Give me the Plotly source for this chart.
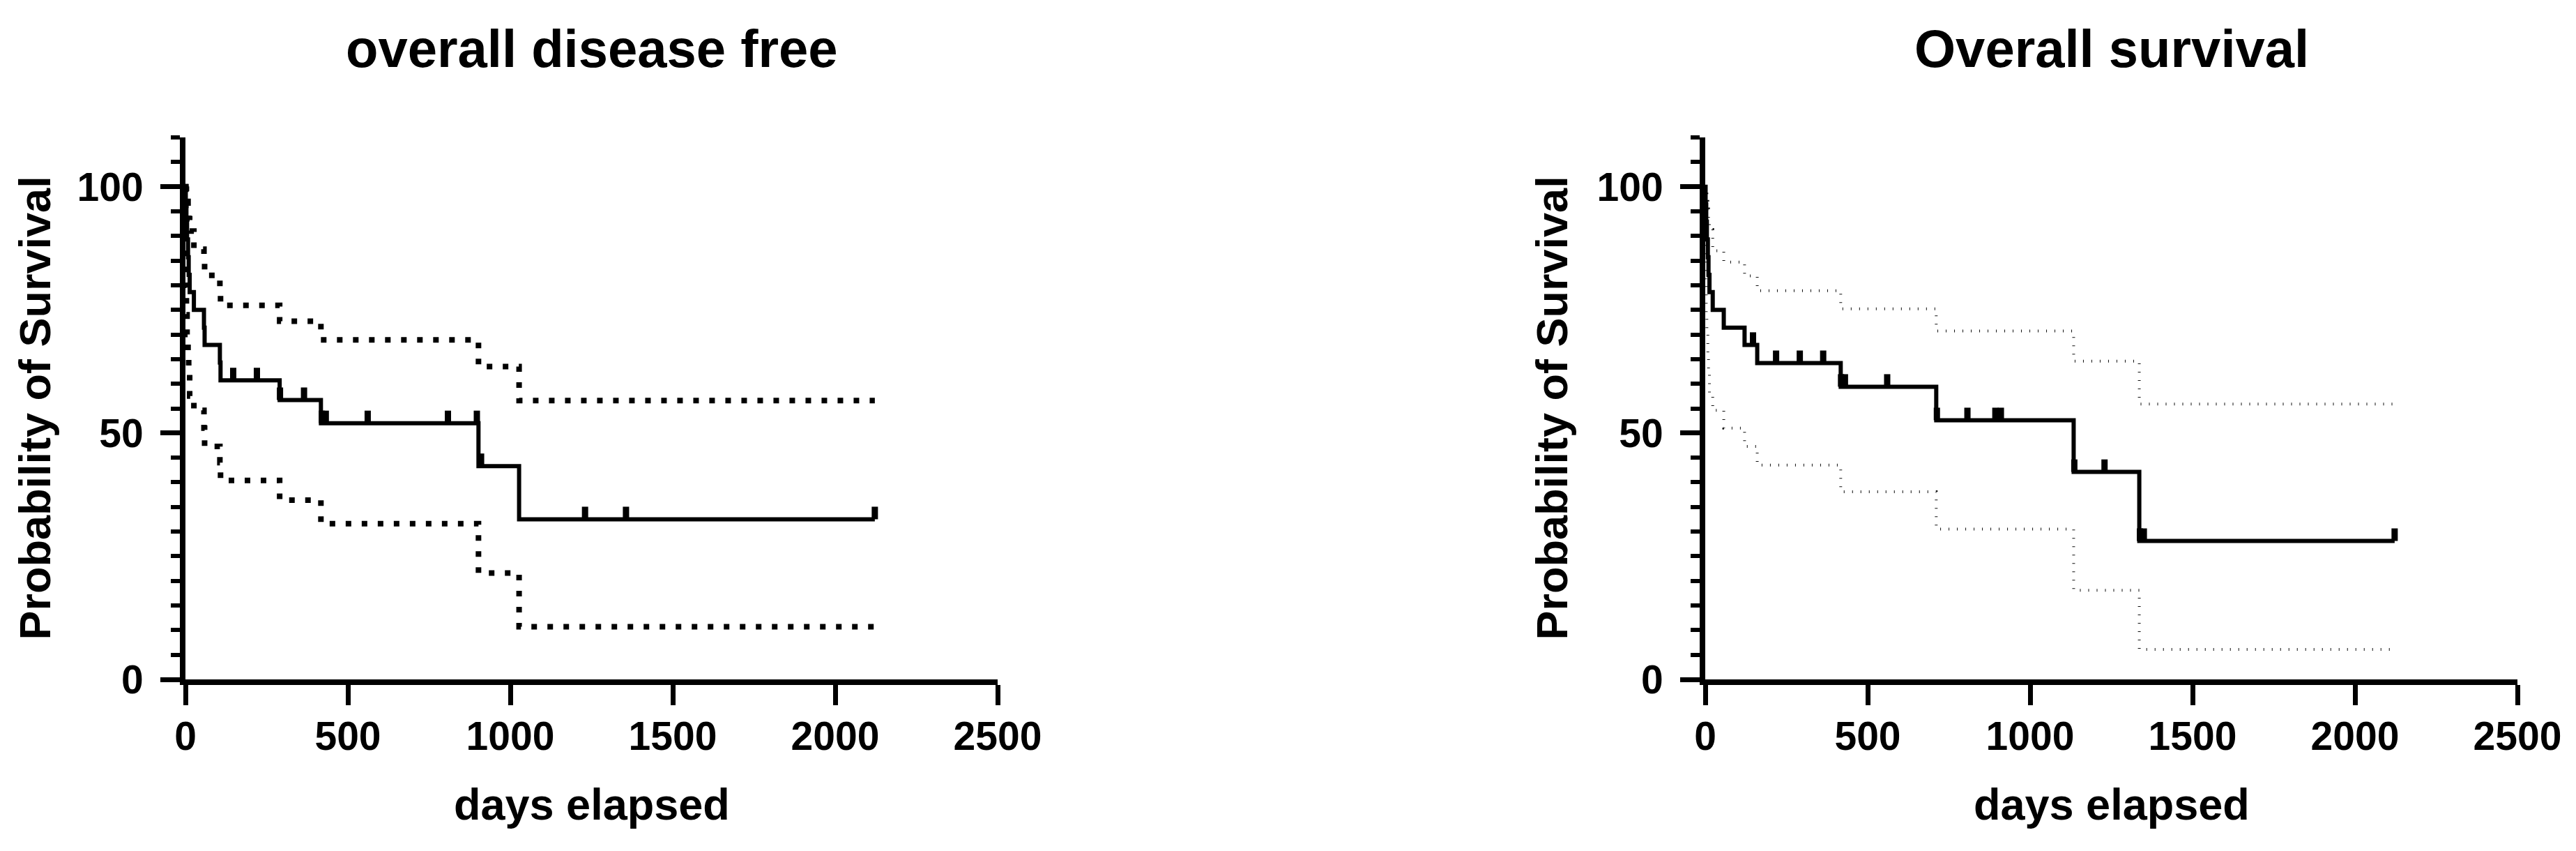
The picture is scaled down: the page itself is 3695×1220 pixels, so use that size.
import plotly.graph_objects as go

# ---------------- data ----------------
# Overall disease free (left panel)
dfs_days = [0, 1, 3, 5, 8, 10, 13, 26, 57, 59, 106, 108, 290, 417, 902, 1027, 2122]
dfs_surv = [100, 96.4, 92.9, 89.3, 85.7, 82.1, 78.6, 75.0, 71.4, 67.9, 64.3, 60.7, 56.7, 52.0, 43.3, 32.5, 32.5]
dfs_upper = [100, 99.5, 98.5, 97, 95.5, 93.5, 91, 87.3, 84.5, 82, 79, 75.9, 72.7, 68.9, 63.5, 56.6, 56.6]
dfs_lower = [100, 80, 74, 70, 66, 62, 57.5, 54.6, 51, 47.3, 44, 40.4, 36.4, 31.6, 21.6, 10.7, 10.7]
dfs_censored = [147, 220, 291, 365, 420, 432, 561, 808, 897, 910, 1230, 1356, 2122]

# Overall survival (right panel)
os_days = [0, 1, 3, 5, 8, 10, 13, 23, 57, 121, 160, 417, 711, 1134, 1336, 2122]
os_surv = [100, 96.4, 92.9, 89.3, 85.7, 82.1, 78.6, 75.0, 71.4, 67.9, 64.2, 59.4, 52.6, 42.1, 28.1, 28.1]
os_upper = [100, 99.5, 98.5, 97, 95.5, 93.5, 91.3, 87, 84.7, 81.9, 78.9, 75.2, 70.7, 64.6, 55.9, 55.9]
os_lower = [100, 80, 74, 70, 66, 62, 57.8, 54.6, 51, 47.3, 43.5, 38.1, 30.5, 18.1, 6.1, 6.1]
os_censored = [147, 218, 291, 363, 418, 430, 560, 713, 807, 893, 910, 1136, 1229, 1338, 1350, 2122]

panel_titles = ["overall disease free", "Overall survival"]
x_title = "days elapsed"
y_title = "Probability of Survival"
x_ticks = [0, 500, 1000, 1500, 2000, 2500]
y_ticks = [0, 50, 100]

# ---------------- layout geometry (page pixels) ----------------
PAGE_W, PAGE_H = 3695, 1220
BODY = 8                      # default page body margin
W, H = PAGE_W - 2 * BODY, PAGE_H - 2 * BODY
FONT = "Liberation Sans, Arial, Helvetica, sans-serif"


def fx(px):
    return (px - BODY) / W


def fy(py):
    return 1 - (py - BODY) / H


y_top_px, y_bot_px = 197, 974
x_dom_px = [(266, 1431), (2446, 3611)]
Y_MAX = 110
px_per_unit = (y_bot_px - y_top_px) / Y_MAX
tick_h_px = 18
censor_offset = (tick_h_px / 2) / px_per_unit


def step_value(days, vals, t):
    v = vals[0]
    for d, s in zip(days, vals):
        if d <= t:
            v = s
    return v


fig = go.Figure()

panels = [
    (dfs_days, dfs_surv, dfs_upper, dfs_lower, dfs_censored,
     dict(color="black", width=8, dash="8px,15px")),
    (os_days, os_surv, os_upper, os_lower, os_censored,
     dict(color="#111111", width=4, dash="1px,11px")),
]

for i, (days, surv, up, lo, cens, ci_line) in enumerate(panels):
    xa = "x" if i == 0 else "x2"
    ya = "y" if i == 0 else "y2"
    for band in (up, lo):
        fig.add_trace(go.Scatter(x=days, y=band, mode="lines", line_shape="hv",
                                 line=ci_line, xaxis=xa, yaxis=ya,
                                 showlegend=False, cliponaxis=False, hoverinfo="skip"))
    fig.add_trace(go.Scatter(x=days, y=surv, mode="lines", line_shape="hv",
                             line=dict(color="black", width=6),
                             xaxis=xa, yaxis=ya, showlegend=False, cliponaxis=False))
    cy = [step_value(days, surv, t) + censor_offset for t in cens]
    fig.add_trace(go.Scatter(x=cens, y=cy, mode="markers",
                             marker=dict(symbol="line-ns", size=tick_h_px / 1.4,
                                         line=dict(color="black", width=9)),
                             xaxis=xa, yaxis=ya, showlegend=False, cliponaxis=False))

axis_common = dict(showgrid=False, zeroline=False, showline=True, linecolor="black",
                   linewidth=8, ticks="outside", tickcolor="black", automargin=False,
                   tickfont=dict(family=FONT, size=57, color="black", weight="bold"))

ydom = [fy(y_bot_px), fy(y_top_px)]
layout = dict(width=W, height=H, margin=dict(l=0, r=0, t=0, b=0, autoexpand=False),
              template="none",
              paper_bgcolor="white", plot_bgcolor="white",
              font=dict(family=FONT, color="black", weight="bold"))

for i, (x0, x1) in enumerate(x_dom_px):
    sfx = "" if i == 0 else "2"
    layout["xaxis" + sfx] = dict(axis_common, domain=[fx(x0), fx(x1)], range=[0, 2500],
                                 tickvals=x_ticks, ticklen=29, tickwidth=7,
                                 ticklabelstandoff=-4,
                                 anchor="y" + sfx)
    layout["yaxis" + sfx] = dict(axis_common, domain=ydom, range=[0, Y_MAX],
                                 tickvals=y_ticks, ticklen=28, tickwidth=7,
                                 ticklabelstandoff=13,
                                 minor=dict(dtick=5, tick0=0, ticks="outside", ticklen=13,
                                            tickwidth=6, tickcolor="black"),
                                 anchor="x" + sfx)

fig.update_layout(**layout)

ann = []
for i, (x0, x1) in enumerate(x_dom_px):
    cx = (x0 + x1) / 2
    ann.append(dict(text=panel_titles[i], x=fx(cx), y=fy(70), xref="paper", yref="paper",
                    xanchor="center", yanchor="middle", showarrow=False,
                    font=dict(family=FONT, size=76, color="black", weight="bold")))
    ann.append(dict(text=x_title, x=fx(cx), y=fy(1153), xref="paper", yref="paper",
                    xanchor="center", yanchor="middle", showarrow=False,
                    font=dict(family=FONT, size=63, color="black", weight="bold")))
    ytx = 49 if i == 0 else 2225
    ann.append(dict(text=y_title, x=fx(ytx), y=fy((y_top_px + y_bot_px) / 2),
                    xref="paper", yref="paper", textangle=-90,
                    xanchor="center", yanchor="middle", showarrow=False,
                    font=dict(family=FONT, size=63, color="black", weight="bold")))
fig.update_layout(annotations=ann)

fig.write_html("out.html")
